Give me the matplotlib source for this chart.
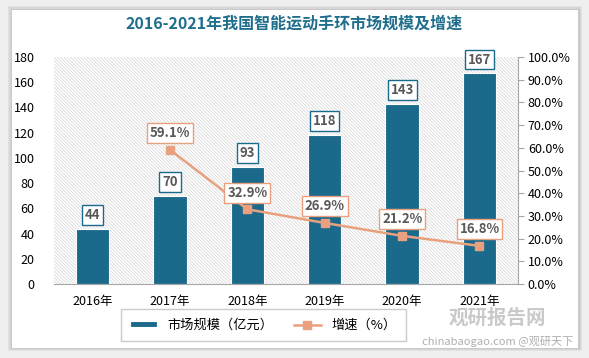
import matplotlib.pyplot as plt
import matplotlib.patches as mpatches
import numpy as np

plt.rcParams['font.family'] = ['Noto Sans CJK SC', 'DejaVu Sans']
plt.rcParams['hatch.linewidth'] = 0.5

years = ['2016年', '2017年', '2018年', '2019年', '2020年', '2021年']
market = [44, 70, 93, 118, 143, 167]
growth_years = ['2017年', '2018年', '2019年', '2020年', '2021年']
growth = [59.1, 32.9, 26.9, 21.2, 16.8]

bar_color = '#1b6a8c'
line_color = '#e9a07e'
text_color = '#595959'

fig = plt.figure(figsize=(5.89, 3.58), dpi=100, facecolor='#efefef')

# white card with a soft shadow
for i, a in enumerate([0.05, 0.05, 0.06]):
    d = (3 - i) * 0.002
    fig.patches.append(mpatches.Rectangle((0.020 - d, 0.028 - d * 1.6), 0.962 + 2 * d, 0.945 + 3.2 * d,
                                          transform=fig.transFigure, facecolor='black', alpha=a,
                                          edgecolor='none', zorder=0))
fig.patches.append(mpatches.Rectangle((0.020, 0.028), 0.962, 0.945, transform=fig.transFigure,
                                      facecolor='white', edgecolor='none', zorder=1))

ax = fig.add_axes([0.0917, 0.2067, 0.788, 0.634])
ax.set_facecolor('none')
ax.set_zorder(2)
ax.add_patch(mpatches.Rectangle((0, 0), 1, 1, transform=ax.transAxes, facecolor='white',
                                edgecolor='#d3d3d3', linewidth=0, hatch='\\' * 10, zorder=0))

x = np.arange(len(years))
bars = ax.bar(x, market, width=0.43, color=bar_color, edgecolor='white', linewidth=0.8,
              zorder=2, label='市场规模（亿元）')
ax.set_xlim(-0.5, 5.5)
ax.set_ylim(0, 180)
ax.set_yticks(range(0, 181, 20))
ax.set_xticks(x)
ax.set_xticklabels(years, fontsize=9)
ax.tick_params(axis='y', length=0, labelsize=9, pad=14, colors='black')
ax.tick_params(axis='x', length=0, pad=8)
for s in ['top', 'left', 'right']:
    ax.spines[s].set_visible(False)
ax.spines['bottom'].set_color('#a6a6a6')

for xi, v in zip(x, market):
    ax.annotate(str(v), (xi, v), xytext=(0, 10), textcoords='offset points', ha='center', va='center',
                fontsize=9.5, fontweight='bold', color=text_color, zorder=5,
                bbox=dict(boxstyle='square,pad=0.22', facecolor='white', edgecolor=bar_color, linewidth=1))

ax2 = ax.twinx()
ax2.set_ylim(0, 100)
ax2.set_yticks(range(0, 101, 10))
ax2.set_yticklabels([f'{v:.1f}%' for v in range(0, 101, 10)], fontsize=9)
gx = [years.index(y) for y in growth_years]
ax2.plot(gx, growth, color=line_color, linewidth=1.8, marker='s', markersize=6,
         label='增速（%）', zorder=3)
for s in ['top', 'left', 'bottom']:
    ax2.spines[s].set_visible(False)
ax2.spines['right'].set_color('#a6a6a6')
ax2.tick_params(axis='y', direction='out', length=4, color='#a6a6a6', pad=3)
for xi, v in zip(gx, growth):
    ax2.annotate(f'{v}%', (xi, v), xytext=(0, 12), textcoords='offset points', ha='center', va='center',
                 fontsize=9.5, fontweight='bold', color=text_color, zorder=5,
                 bbox=dict(boxstyle='square,pad=0.22', facecolor='white', edgecolor=line_color, linewidth=1))

fig.text(0.5, 0.935, '2016-2021年我国智能运动手环市场规模及增速', ha='center', va='center',
         fontsize=11.5, fontweight='bold', color='#1f6e8c')

h1, l1 = ax.get_legend_handles_labels()
h2, l2 = ax2.get_legend_handles_labels()
leg = fig.legend(h1 + h2, l1 + l2, loc='center', bbox_to_anchor=(0.447, 0.092), ncol=2,
                 fontsize=9.5, frameon=True, fancybox=False, edgecolor='#bfbfbf',
                 handlelength=2.0, handleheight=0.4, columnspacing=1.6, borderpad=0.7)

# watermark
fig.text(0.845, 0.112, '观研报告网', ha='center', va='center', fontsize=14, fontweight='bold',
         color='#b8b8b8', alpha=0.75)
fig.text(0.845, 0.045, 'chinabaogao.com @观研天下', ha='center', va='center', fontsize=8,
         color='#9a9a9a', alpha=0.8)

fig.savefig('out.png', dpi=100, facecolor=fig.get_facecolor())
